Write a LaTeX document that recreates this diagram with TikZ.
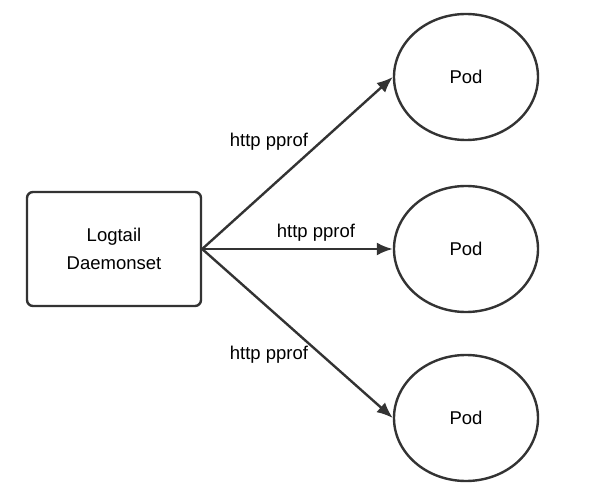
\documentclass[tikz,border=0pt]{standalone}
\usepackage{fontspec}
\setmainfont{Liberation Sans}
\usepackage{tikz}
\usetikzlibrary{positioning, arrows.meta, shapes.geometric}
\definecolor{linegray}{HTML}{333333}

\begin{document}
\begin{tikzpicture}[
        x=1pt, y=-1pt,
        every node/.style={font=\fontsize{18.5}{28}\selectfont},
        box/.style={draw=linegray, line width=2.4pt, rounded corners=6pt, minimum width=174pt, minimum height=114pt, align=center},
        pod/.style={draw=linegray, line width=2.4pt, ellipse, minimum width=144pt, minimum height=126pt},
        link/.style={draw=linegray, line width=2.4pt, -{Latex[length=16pt,width=13pt]}}]

        \useasboundingbox (0,0) rectangle (595,500);

        \node[box] (L) at (114,249) {Logtail\\Daemonset};
        \node[pod] (P1) at (466,77) {Pod};
        \node[pod] (P2) at (466,249) {Pod};
        \node[pod] (P3) at (466,418) {Pod};

        \draw[link] (L.east) to (P1.west);
        \draw[link] (L.east) to (P2.west);
        \draw[link] (L.east) to (P3.west);

        \node (t1) at (269,142) {http pprof};
        \node (t2) at (316,233) {http pprof};
        \node (t3) at (269,355) {http pprof};

    \end{tikzpicture}
\end{document}
